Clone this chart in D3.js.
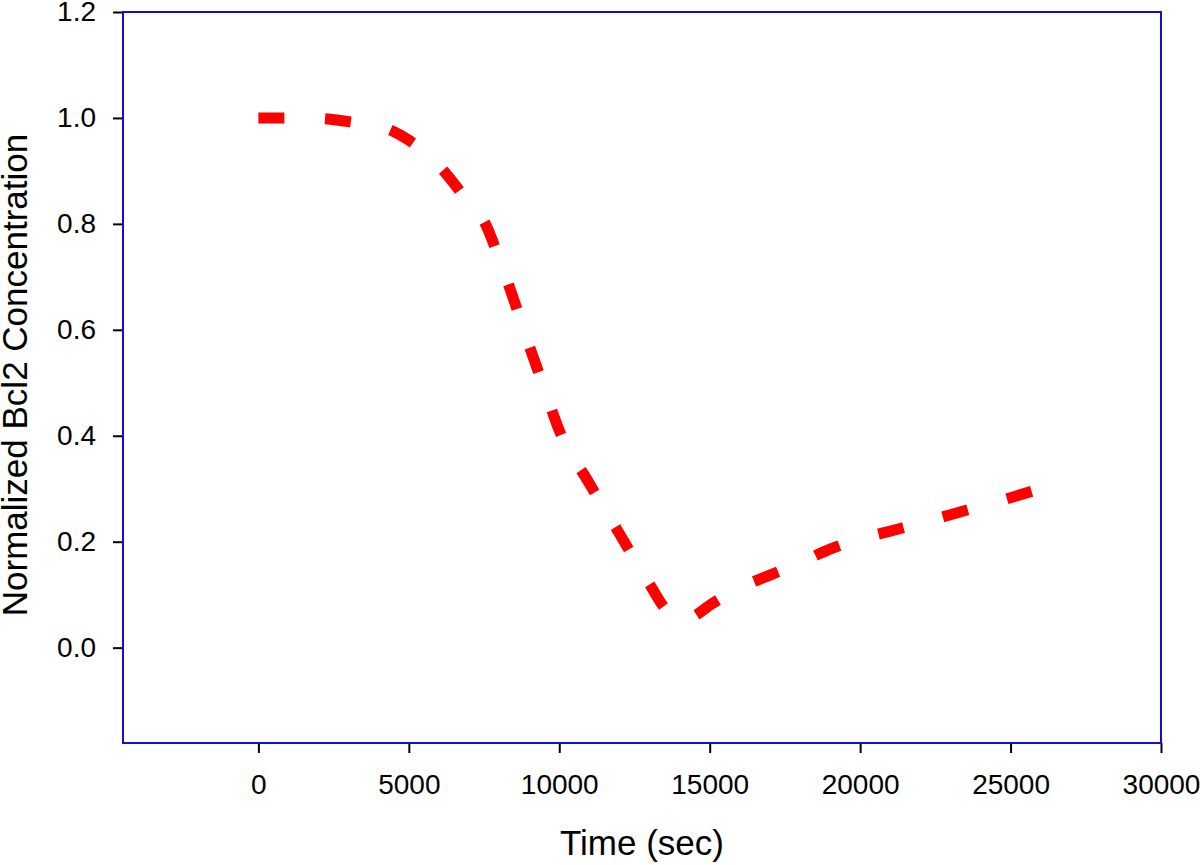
<!DOCTYPE html>
<html>
<head>
<meta charset="utf-8">
<script src="https://cdn.jsdelivr.net/npm/d3@7"></script>
<style>
  body { margin: 0; background: #fff; }
  text { font-family: "Liberation Sans", Arial, sans-serif; }
</style>
</head>
<body>
<div id="the_chart"></div>
<script>
// time (sec) and normalized Bcl2
var times = [0, 1000, 2000, 3000, 4000, 5000, 6000, 7000, 7500, 8000, 8500, 9000, 9500, 10000,
    11000, 12000, 13000, 13500, 14000, 14500, 15000, 16000, 17000, 18000, 19000, 20000,
    21000, 22000, 23000, 24000, 25000, 25700];
var bcl2 = [1.0, 1.0, 0.999, 0.993, 0.985, 0.958, 0.91, 0.84, 0.805, 0.735, 0.655, 0.57, 0.49, 0.41,
    0.31, 0.215, 0.12, 0.075, 0.05, 0.06, 0.08, 0.113, 0.137, 0.16, 0.186, 0.205,
    0.22, 0.235, 0.251, 0.267, 0.283, 0.295];
var xTicks = [0, 5000, 10000, 15000, 20000, 25000, 30000];
var yTicks = [0.0, 0.2, 0.4, 0.6, 0.8, 1.0, 1.2];

function gen_vis() {
    var w = 1200, h = 865;
    var left = 123, right = 1161, top = 12, bottom = 743;

    var svg = d3.select("#the_chart").append("svg")
        .attr("width", w)
        .attr("height", h);

    var xscale = d3.scaleLinear()
        .domain([-4500, 30000])
        .range([left, right]);

    var yscale = d3.scaleLinear()
        .domain([-0.18, 1.2])
        .range([bottom, top]);

    var xaxis = d3.axisBottom(xscale)
        .tickValues(xTicks)
        .tickFormat(d3.format("d"))
        .tickSize(10)
        .tickSizeOuter(0)
        .tickPadding(21);

    var yaxis = d3.axisLeft(yscale)
        .tickValues(yTicks)
        .tickFormat(d3.format(".1f"))
        .tickSize(10)
        .tickSizeOuter(0)
        .tickPadding(17);

    var gx = svg.append("g")
        .attr("transform", "translate(0," + bottom + ")")
        .call(xaxis);
    var gy = svg.append("g")
        .attr("transform", "translate(" + left + ",0)")
        .call(yaxis);

    [gx, gy].forEach(function (g) {
        g.select(".domain").remove();
        g.selectAll(".tick line").attr("stroke", "#000").attr("stroke-width", 2);
        g.selectAll(".tick text")
            .attr("fill", "#000")
            .style("font-size", "28px");
    });

    // blue frame
    svg.append("rect")
        .attr("x", left)
        .attr("y", top)
        .attr("width", right - left)
        .attr("height", bottom - top)
        .attr("fill", "none")
        .attr("stroke", "#1010d0")
        .attr("stroke-width", 2);

    var line = d3.line()
        .x(function (d, i) { return xscale(times[i]); })
        .y(function (d) { return yscale(d); })
        .curve(d3.curveMonotoneX);

    var path = svg.append("path")
        .datum(bcl2)
        .attr("d", line)
        .attr("fill", "none")
        .attr("stroke", "#ff0000")
        .attr("stroke-width", 11)
        .attr("stroke-linecap", "butt");

    // dash ~26 long, period ~65, fitted so a dash closes the line
    var dash = 26;
    var L = path.node().getTotalLength();
    var n = Math.round((L - dash) / 65);
    var period = (L - dash) / n;
    path.attr("stroke-dasharray", dash + "," + (period - dash));

    svg.append("text")
        .attr("x", (left + right) / 2)
        .attr("y", 855)
        .attr("text-anchor", "middle")
        .style("font-size", "35px")
        .text("Time (sec)");

    svg.append("text")
        .attr("transform", "translate(27," + 375 + ") rotate(-90)")
        .attr("text-anchor", "middle")
        .style("font-size", "35px")
        .text("Normalized Bcl2 Concentration");
}

gen_vis();
</script>
</body>
</html>
